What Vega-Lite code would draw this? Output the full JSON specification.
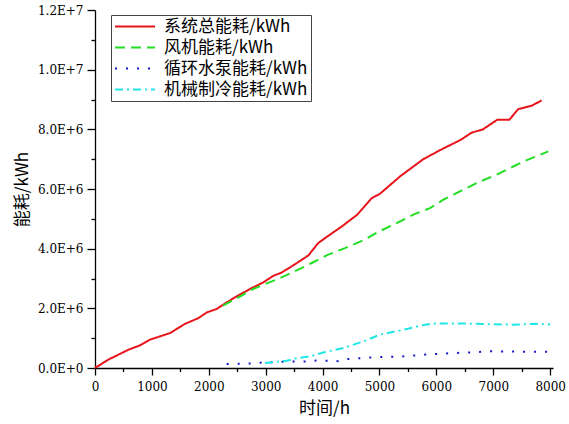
{
  "$schema": "https://vega.github.io/schema/vega-lite/v6.json",
  "width": 458,
  "height": 358,
  "autosize": "none",
  "padding": {"left": 95, "top": 10, "right": 16, "bottom": 56},
  "background": "white",
  "config": {
    "view": {"stroke": null},
    "axis": {
      "grid": false,
      "domainColor": "black",
      "domainWidth": 1.3,
      "tickColor": "black",
      "tickWidth": 1.3,
      "labelColor": "black",
      "titleColor": "black",
      "labelFont": "DejaVu Serif",
      "labelFontSize": 12,
      "titleFont": "Noto Sans CJK SC",
      "titleFontSize": 17,
      "titleFontWeight": "normal"
    },
    "legend": {
      "fillColor": "white",
      "strokeColor": "#444444",
      "padding": 3,
      "symbolType": "stroke",
      "symbolSize": 1600,
      "symbolStrokeWidth": 2,
      "clipHeight": 17,
      "rowPadding": 3,
      "labelFont": "Noto Sans CJK SC",
      "labelFontSize": 17,
      "labelOffset": 8,
      "labelColor": "black",
      "labelLimit": 300
    }
  },
  "data": {
    "values": [
      {"s": "系统总能耗/kWh", "t": 0, "e": 0},
      {"s": "系统总能耗/kWh", "t": 234, "e": 280000},
      {"s": "系统总能耗/kWh", "t": 585, "e": 610000},
      {"s": "系统总能耗/kWh", "t": 791, "e": 760000},
      {"s": "系统总能耗/kWh", "t": 967, "e": 950000},
      {"s": "系统总能耗/kWh", "t": 1318, "e": 1170000},
      {"s": "系统总能耗/kWh", "t": 1582, "e": 1480000},
      {"s": "系统总能耗/kWh", "t": 1816, "e": 1670000},
      {"s": "系统总能耗/kWh", "t": 1963, "e": 1860000},
      {"s": "系统总能耗/kWh", "t": 2139, "e": 1980000},
      {"s": "系统总能耗/kWh", "t": 2315, "e": 2200000},
      {"s": "系统总能耗/kWh", "t": 2490, "e": 2400000},
      {"s": "系统总能耗/kWh", "t": 2724, "e": 2650000},
      {"s": "系统总能耗/kWh", "t": 2958, "e": 2870000},
      {"s": "系统总能耗/kWh", "t": 3134, "e": 3090000},
      {"s": "系统总能耗/kWh", "t": 3281, "e": 3200000},
      {"s": "系统总能耗/kWh", "t": 3485, "e": 3440000},
      {"s": "系统总能耗/kWh", "t": 3748, "e": 3770000},
      {"s": "系统总能耗/kWh", "t": 3924, "e": 4190000},
      {"s": "系统总能耗/kWh", "t": 4130, "e": 4470000},
      {"s": "系统总能耗/kWh", "t": 4335, "e": 4740000},
      {"s": "系统总能耗/kWh", "t": 4610, "e": 5140000},
      {"s": "系统总能耗/kWh", "t": 4862, "e": 5690000},
      {"s": "系统总能耗/kWh", "t": 5009, "e": 5840000},
      {"s": "系统总能耗/kWh", "t": 5360, "e": 6420000},
      {"s": "系统总能耗/kWh", "t": 5770, "e": 7000000},
      {"s": "系统总能耗/kWh", "t": 6063, "e": 7300000},
      {"s": "系统总能耗/kWh", "t": 6430, "e": 7650000},
      {"s": "系统总能耗/kWh", "t": 6620, "e": 7890000},
      {"s": "系统总能耗/kWh", "t": 6810, "e": 7990000},
      {"s": "系统总能耗/kWh", "t": 7070, "e": 8320000},
      {"s": "系统总能耗/kWh", "t": 7282, "e": 8320000},
      {"s": "系统总能耗/kWh", "t": 7440, "e": 8680000},
      {"s": "系统总能耗/kWh", "t": 7675, "e": 8790000},
      {"s": "系统总能耗/kWh", "t": 7850, "e": 8970000},
      {"s": "风机能耗/kWh", "t": 2250, "e": 2090000},
      {"s": "风机能耗/kWh", "t": 2607, "e": 2460000},
      {"s": "风机能耗/kWh", "t": 2724, "e": 2600000},
      {"s": "风机能耗/kWh", "t": 2958, "e": 2790000},
      {"s": "风机能耗/kWh", "t": 3251, "e": 3010000},
      {"s": "风机能耗/kWh", "t": 3544, "e": 3270000},
      {"s": "风机能耗/kWh", "t": 3808, "e": 3520000},
      {"s": "风机能耗/kWh", "t": 4100, "e": 3800000},
      {"s": "风机能耗/kWh", "t": 4394, "e": 4020000},
      {"s": "风机能耗/kWh", "t": 4716, "e": 4280000},
      {"s": "风机能耗/kWh", "t": 4979, "e": 4560000},
      {"s": "风机能耗/kWh", "t": 5272, "e": 4830000},
      {"s": "风机能耗/kWh", "t": 5594, "e": 5140000},
      {"s": "风机能耗/kWh", "t": 5888, "e": 5360000},
      {"s": "风机能耗/kWh", "t": 6121, "e": 5640000},
      {"s": "风机能耗/kWh", "t": 6415, "e": 5920000},
      {"s": "风机能耗/kWh", "t": 6707, "e": 6200000},
      {"s": "风机能耗/kWh", "t": 7059, "e": 6480000},
      {"s": "风机能耗/kWh", "t": 7528, "e": 6920000},
      {"s": "风机能耗/kWh", "t": 7967, "e": 7260000},
      {"s": "循环水泵能耗/kWh", "t": 2314, "e": 130000},
      {"s": "循环水泵能耗/kWh", "t": 2712, "e": 150000},
      {"s": "循环水泵能耗/kWh", "t": 2912, "e": 180000},
      {"s": "循环水泵能耗/kWh", "t": 3299, "e": 210000},
      {"s": "循环水泵能耗/kWh", "t": 3691, "e": 220000},
      {"s": "循环水泵能耗/kWh", "t": 3884, "e": 250000},
      {"s": "循环水泵能耗/kWh", "t": 4276, "e": 230000},
      {"s": "循环水泵能耗/kWh", "t": 4452, "e": 300000},
      {"s": "循环水泵能耗/kWh", "t": 4833, "e": 350000},
      {"s": "循环水泵能耗/kWh", "t": 5038, "e": 370000},
      {"s": "循环水泵能耗/kWh", "t": 5418, "e": 390000},
      {"s": "循环水泵能耗/kWh", "t": 5800, "e": 450000},
      {"s": "循环水泵能耗/kWh", "t": 6181, "e": 490000},
      {"s": "循环水泵能耗/kWh", "t": 6561, "e": 520000},
      {"s": "循环水泵能耗/kWh", "t": 6972, "e": 560000},
      {"s": "循环水泵能耗/kWh", "t": 7352, "e": 550000},
      {"s": "循环水泵能耗/kWh", "t": 7960, "e": 545000},
      {"s": "机械制冷能耗/kWh", "t": 2988, "e": 170000},
      {"s": "机械制冷能耗/kWh", "t": 3369, "e": 240000},
      {"s": "机械制冷能耗/kWh", "t": 3544, "e": 330000},
      {"s": "机械制冷能耗/kWh", "t": 3779, "e": 390000},
      {"s": "机械制冷能耗/kWh", "t": 4013, "e": 520000},
      {"s": "机械制冷能耗/kWh", "t": 4365, "e": 670000},
      {"s": "机械制冷能耗/kWh", "t": 4716, "e": 890000},
      {"s": "机械制冷能耗/kWh", "t": 5009, "e": 1120000},
      {"s": "机械制冷能耗/kWh", "t": 5418, "e": 1280000},
      {"s": "机械制冷能耗/kWh", "t": 5770, "e": 1440000},
      {"s": "机械制冷能耗/kWh", "t": 5946, "e": 1490000},
      {"s": "机械制冷能耗/kWh", "t": 6532, "e": 1490000},
      {"s": "机械制冷能耗/kWh", "t": 6942, "e": 1470000},
      {"s": "机械制冷能耗/kWh", "t": 7352, "e": 1450000},
      {"s": "机械制冷能耗/kWh", "t": 7763, "e": 1480000},
      {"s": "机械制冷能耗/kWh", "t": 8000, "e": 1460000}
    ]
  },
  "mark": {"type": "line", "strokeWidth": 2},
  "encoding": {
    "x": {
      "field": "t",
      "type": "quantitative",
      "title": "时间/h",
      "scale": {"domain": [0, 8050], "nice": false, "zero": false},
      "axis": {
        "values": [0, 500, 1000, 1500, 2000, 2500, 3000, 3500, 4000, 4500, 5000, 5500, 6000, 6500, 7000, 7500, 8000],
        "labelExpr": "datum.value % 1000 == 0 ? format(datum.value, 'd') : ''",
        "tickSize": {"condition": {"test": "datum.value % 1000 != 0", "value": 3.5}, "value": 7},
        "labelPadding": 6,
        "labelFlush": false,
        "labelOverlap": false,
        "titlePadding": 8
      }
    },
    "y": {
      "field": "e",
      "type": "quantitative",
      "title": "能耗/kWh",
      "scale": {"domain": [0, 12000000], "nice": false},
      "axis": {
        "values": [0, 1000000, 2000000, 3000000, 4000000, 5000000, 6000000, 7000000, 8000000, 9000000, 10000000, 11000000, 12000000],
        "labelExpr": "datum.value % 2000000 != 0 ? '' : (datum.value == 0 ? '0.0E+0' : format(datum.value / pow(10, floor(log(datum.value) / LN10 + 1e-9)), '.1f') + 'E+' + floor(log(datum.value) / LN10 + 1e-9))",
        "tickSize": {"condition": {"test": "datum.value % 2000000 != 0", "value": 4}, "value": 8},
        "labelPadding": 4,
        "labelFlush": false,
        "labelOverlap": false,
        "titlePadding": 6
      }
    },
    "color": {
      "field": "s",
      "type": "nominal",
      "scale": {
        "domain": ["系统总能耗/kWh", "风机能耗/kWh", "循环水泵能耗/kWh", "机械制冷能耗/kWh"],
        "range": ["#E8141C", "#22DD22", "#1515C8", "#22E6E6"]
      },
      "legend": {"title": null, "orient": "none", "legendX": 16, "legendY": 5}
    },
    "strokeDash": {
      "field": "s",
      "type": "nominal",
      "scale": {
        "domain": ["系统总能耗/kWh", "风机能耗/kWh", "循环水泵能耗/kWh", "机械制冷能耗/kWh"],
        "range": [[1, 0], [10, 6], [2, 9], [8, 4, 2, 4]]
      },
      "legend": {"title": null, "orient": "none", "legendX": 16, "legendY": 5}
    }
  }
}
